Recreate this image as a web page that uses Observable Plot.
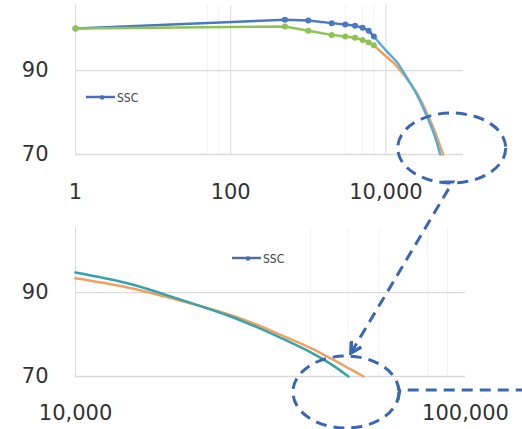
<!DOCTYPE html>
<html><head><meta charset="utf-8">
<script src="https://cdn.jsdelivr.net/npm/d3@7"></script>
<script src="https://cdn.jsdelivr.net/npm/@observablehq/plot@0.6"></script>
<style>
body{margin:0;background:#fff}
#wrap{position:relative;width:522px;height:429px;overflow:hidden}
#wrap svg{position:absolute;left:0}
</style>
</head><body><div id="wrap"></div>
<script>
// ---- data ----
const sscX = [1, 500, 1000, 2000, 3000, 4000, 5000, 6000, 7000];
const sscY = [100, 102.1, 101.9, 101.3, 101.0, 100.7, 100.2, 99.5, 98.1];
const refX = [1, 500, 1000, 2000, 3000, 4000, 5000, 6000, 7000];
const refY = [100, 100.5, 99.5, 98.5, 98.1, 97.8, 97.3, 96.7, 96.0];
const fitX = [10000, 13600, 18200, 24500, 29800, 33600, 40000, 45100, 50100, 54800];
const fitSSC = [94.8, 92.2, 88.6, 84.6, 81.4, 79.2, 75.8, 73.0, 70.0, null];
const fitRef = [93.4, 91.2, 88.3, 84.9, 82.0, 79.9, 76.8, 74.3, 72.0, 70.0];
const topTicks = [1, 100, 10000];
const topMinor = [50, 70, 3000, 5000, 7000];
const bottomTicks = [10000, 100000];
const bottomMinor = [40000, 50000, 60000, 80000, 90000];
const yTicks = [70, 90];
const legendLabel = "SSC";

// ---- tables built from arrays ----
const ssc = sscX.map((x, i) => ({x, y: sscY[i]}));
const ref = refX.map((x, i) => ({x, y: refY[i]}));
const fitS = fitX.map((x, i) => ({x, y: fitSSC[i]})).filter(d => d.y != null);
const fitR = fitX.map((x, i) => ({x, y: fitRef[i]})).filter(d => d.y != null);
const topFitS = [ssc[ssc.length - 1], ...fitS];
const topFitR = [ref[ref.length - 1], ...fitR];

const fmt = d3.format(",");
const grid = "#d9d9d9", minor = "#f2f2f2";
const cBlue = "#4a78c4", cGreen = "#8fc254", cTealTop = "#55aed6", cTeal = "#35a3aa", cOrange = "#f0a060";
const style = {fontFamily: "DejaVu Sans", fontSize: "21px", color: "#333", background: "transparent", overflow: "visible"};

const topPlot = Plot.plot({
  width: 522, height: 222,
  marginLeft: 75, marginRight: 59, marginTop: 5, marginBottom: 68,
  style,
  x: {type: "log", domain: [1, 100000], ticks: topTicks, tickFormat: fmt, tickSize: 0, tickPadding: 30, label: null},
  y: {domain: [70, 105.5], ticks: yTicks, tickSize: 0, tickPadding: 27, label: null},
  marks: [
    Plot.ruleX(topMinor, {stroke: minor, strokeWidth: 1}),
    Plot.ruleX(topTicks, {stroke: grid, strokeWidth: 1}),
    Plot.ruleY(yTicks, {stroke: grid, strokeWidth: 1.3}),
    Plot.line(topFitR, {x: "x", y: "y", stroke: cOrange, strokeWidth: 2.5, curve: "catmull-rom"}),
    Plot.line(topFitS, {x: "x", y: "y", stroke: cTealTop, strokeWidth: 2.5, curve: "catmull-rom"}),
    Plot.line(ssc, {x: "x", y: "y", stroke: cBlue, strokeWidth: 2.5}),
    Plot.dot(ssc, {x: "x", y: "y", fill: cBlue, r: 3}),
    Plot.line(ref, {x: "x", y: "y", stroke: cGreen, strokeWidth: 2.5}),
    Plot.dot(ref, {x: "x", y: "y", fill: cGreen, r: 3})
  ]
});

const bottomPlot = Plot.plot({
  width: 522, height: 207,
  marginLeft: 75, marginRight: 57, marginTop: 5, marginBottom: 53,
  style,
  x: {type: "log", domain: [10000, 100000], ticks: bottomTicks, tickFormat: fmt, tickSize: 0, tickPadding: 29, label: null},
  y: {domain: [70, 105.5], ticks: yTicks, tickSize: 0, tickPadding: 27, label: null},
  marks: [
    Plot.ruleX(bottomMinor, {stroke: minor, strokeWidth: 1}),
    Plot.ruleX([bottomTicks[0]], {stroke: grid, strokeWidth: 1}),
    Plot.ruleY(yTicks, {stroke: grid, strokeWidth: 1.3}),
    Plot.line(fitR, {x: "x", y: "y", stroke: cOrange, strokeWidth: 2.5, curve: "catmull-rom"}),
    Plot.line(fitS, {x: "x", y: "y", stroke: cTeal, strokeWidth: 2.5, curve: "catmull-rom"})
  ]
});

const wrap = document.getElementById("wrap");
topPlot.style.top = "0px";
bottomPlot.style.top = "222px";
wrap.appendChild(topPlot);
wrap.appendChild(bottomPlot);

// ---- overlay: legends and callout annotations ----
const ov = d3.select(wrap).append("svg")
  .attr("width", 522).attr("height", 429)
  .style("top", "0px").style("pointer-events", "none");

function legend(x0, y0, color) {
  ov.append("line").attr("x1", x0).attr("x2", x0 + 29).attr("y1", y0).attr("y2", y0)
    .attr("stroke", color).attr("stroke-width", 2.5);
  ov.append("circle").attr("cx", x0 + 16).attr("cy", y0 + 0.5).attr("r", 2.3).attr("fill", color);
  ov.append("text").attr("x", x0 + 31).attr("y", y0 + 4.5)
    .attr("font-family", "DejaVu Sans Condensed, DejaVu Sans").attr("font-size", 12)
    .attr("fill", "#444").text(legendLabel);
}
legend(86, 97, "#4a6fb5");
legend(232, 258, "#50709f");

const dash = "#3a67b2";
const tx = topPlot.scale("x"), ty = topPlot.scale("y");
const bx = bottomPlot.scale("x"), by = bottomPlot.scale("y");
const endX = fitX[8], endY = fitSSC[8];
const tA = [tx.apply(endX), ty.apply(endY)];
const bA = [bx.apply(endX), by.apply(endY) + 222];

const defs = ov.append("defs");
defs.append("marker").attr("id", "ah").attr("viewBox", "0 0 12 12")
  .attr("refX", 10).attr("refY", 6).attr("markerWidth", 14).attr("markerHeight", 14)
  .attr("markerUnits", "userSpaceOnUse").attr("orient", "auto")
  .append("path").attr("d", "M1,1 L10,6 L1,11").attr("fill", "none")
  .attr("stroke", dash).attr("stroke-width", 3);

const ell = (cx, cy, rx, ry) => ov.append("ellipse").attr("cx", cx).attr("cy", cy)
  .attr("rx", rx).attr("ry", ry).attr("fill", "none").attr("stroke", dash)
  .attr("stroke-width", 3).attr("stroke-dasharray", "11 7");

const tc = [tA[0] + 12, tA[1] - 6];
ell(tc[0], tc[1], 54, 35);
const bc = [bA[0] - 2, bA[1] + 16];
ell(bc[0], bc[1], 53, 36);

ov.append("path")
  .attr("d", `M${tc[0] - 9},${tc[1] + 34} L${tc[0] + 1},${tc[1] + 34} L${bA[0] + 3},${bA[1] - 23}`)
  .attr("fill", "none").attr("stroke", dash).attr("stroke-width", 3)
  .attr("stroke-dasharray", "11 7").attr("marker-end", "url(#ah)");

ov.append("path")
  .attr("d", `M${bc[0] + 52},${bc[1] + 8} L${bc[0] + 54},${bc[1] - 2} L522,${bc[1] - 2}`)
  .attr("fill", "none").attr("stroke", dash).attr("stroke-width", 3)
  .attr("stroke-dasharray", "11 7");
</script>
</body></html>
